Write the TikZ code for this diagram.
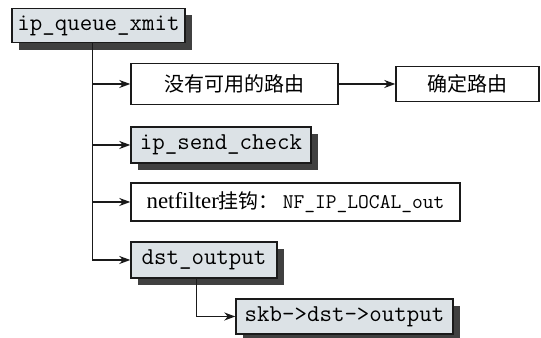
\documentclass[tikz,border=0pt]{standalone}
\usepackage{fontspec}
\setmainfont{Liberation Serif}
\newfontfamily\cjk{Noto Sans CJK SC}
\usetikzlibrary{positioning, arrows.meta, shadows}
\definecolor{boxGray}{HTML}{DCE2E6}
\definecolor{shadeGray}{HTML}{404040}
\definecolor{lineBlack}{HTML}{1A1A1A}

\begin{document}
\begin{tikzpicture}[
    funcBox/.style={draw=lineBlack, line width=0.8pt, rectangle, fill=boxGray, align=center, font=\fontsize{13.8}{16}\selectfont\ttfamily, inner sep=1pt, drop shadow={shadow xshift=0.14cm, shadow yshift=-0.14cm, fill=shadeGray, opacity=1}},
    noteBox/.style={draw=lineBlack, line width=0.8pt, rectangle, fill=white, align=center, font=\fontsize{11.4}{14}\selectfont\cjk, inner sep=1pt},
    link/.style={draw=lineBlack, line width=0.8pt, -{Stealth[length=2.2mm, width=1.6mm, inset=0.7mm]}},
]
\useasboundingbox (0,0) rectangle (10.82,6.76);
\node[funcBox, minimum width=3.46cm, minimum height=0.69cm] (xmit) at (1.97, 6.25) {ip\_queue\_xmit};
\node[noteBox, minimum width=4.14cm, minimum height=0.83cm] (route) at (4.69, 5.08) {没有可用的路由};
\node[noteBox, minimum width=2.86cm, minimum height=0.70cm] (fix) at (9.35, 5.08) {确定路由};
\node[funcBox, minimum width=3.6cm, minimum height=0.72cm] (check) at (4.42, 3.86) {ip\_send\_check};
\node[noteBox, minimum width=6.58cm, minimum height=0.76cm, font=\fontsize{13}{15}\selectfont] (nf) at (5.91, 2.72) {netfilter{\cjk\fontsize{11.4}{14}\selectfont 挂钩：}\,{\ttfamily\fontsize{11.9}{14}\selectfont NF\_IP\_LOCAL\_out}};
\node[funcBox, minimum width=2.92cm, minimum height=0.72cm] (dsto) at (4.08, 1.56) {dst\_output};
\node[funcBox, minimum width=4.34cm, minimum height=0.70cm] (skb) at (6.89, 0.43) {skb->dst->output};
\draw[link] ([xshift=-1.2mm]xmit.south) |- (route.west);
\draw[link] ([xshift=-1.2mm]xmit.south) |- (check.west);
\draw[link] ([xshift=-1.2mm]xmit.south) |- (nf.west);
\draw[link] ([xshift=-1.2mm]xmit.south) |- (dsto.west);
\draw[link] (route.east) -- (fix.west);
\draw[link] ([xshift=-1.5mm]dsto.south) |- (skb.west);
\end{tikzpicture}
\end{document}
